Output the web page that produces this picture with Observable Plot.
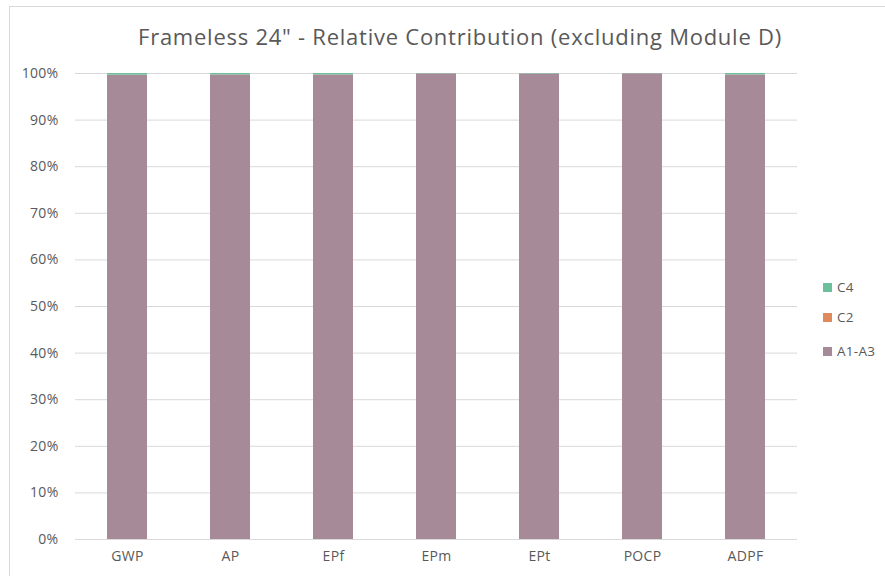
<!DOCTYPE html>
<html>
<head>
<meta charset="utf-8">
<script src="https://cdn.jsdelivr.net/npm/d3@7"></script>
<script src="https://cdn.jsdelivr.net/npm/@observablehq/plot@0.6"></script>
<style>
  html, body { margin: 0; padding: 0; background: #fff; overflow: hidden; }
  #wrap { position: relative; width: 885px; height: 576px; font-family: "Open Sans", Lato, sans-serif; overflow: hidden; }
  #border { position: absolute; left: 9px; top: 6px; width: 900px; height: 600px; border: 1px solid #d9d9d9; box-sizing: border-box; }
  #title { position: absolute; left: 15px; width: 890px; top: 21px; text-align: center; font-size: 22px; letter-spacing: 0.75px; color: #595959; white-space: nowrap; }
  #chart { position: absolute; left: 0; top: 0; }
  #chart svg text { letter-spacing: 0.3px; }
  #legend { position: absolute; left: 823px; top: 278px; font-size: 13.5px; color: #595959; letter-spacing: 0.3px; }
  .li { position: absolute; left: 0; white-space: nowrap; height: 18px; line-height: 18px; }
  .sw { display: inline-block; width: 9px; height: 9px; margin-right: 5px; vertical-align: 0px; }
</style>
</head>
<body>
<div id="wrap">
  <div id="border"></div>
  <div id="chart"></div>
  <div id="title">Frameless 24" - Relative Contribution (excluding Module D)</div>
  <div id="legend"></div>
</div>
<script>
const categories = ["GWP", "AP", "EPf", "EPm", "EPt", "POCP", "ADPF"];
const seriesNames = ["A1-A3", "C2", "C4"];
const seriesColors = ["#a78a98", "#e08a5c", "#6cbf9d"];
const a1a3 = [99.63, 99.68, 99.68, 99.90, 99.88, 99.93, 99.68];
const c2 = [0.02, 0.02, 0.02, 0.02, 0.02, 0.02, 0.02];
const c4 = [0.35, 0.30, 0.30, 0.08, 0.10, 0.05, 0.30];
const yTicks = [0, 10, 20, 30, 40, 50, 60, 70, 80, 90, 100];
const legendOrder = ["C4", "C2", "A1-A3"];
const legendTops = [0, 30, 64];

const seriesValues = {"A1-A3": a1a3, "C2": c2, "C4": c4};
const data = [];
for (const s of seriesNames) {
  categories.forEach((c, i) => data.push({category: c, series: s, value: seriesValues[s][i]}));
}

const plot = Plot.plot({
  width: 885,
  height: 576,
  marginLeft: 75,
  marginRight: 88,
  marginTop: 73,
  marginBottom: 37,
  style: {fontFamily: "'Open Sans', Lato, sans-serif", fontSize: "14px", color: "#595959", background: "transparent"},
  x: {domain: categories, paddingInner: 0.61, paddingOuter: 0.305, label: null, tickSize: 0, tickPadding: 12},
  y: {domain: [0, 100], ticks: yTicks, label: null, tickSize: 0, tickPadding: 17, tickFormat: d => d + "%"},
  color: {domain: seriesNames, range: seriesColors},
  marks: [
    Plot.gridY(yTicks, {stroke: "#d9d9d9", strokeOpacity: 1, strokeWidth: 1}),
    Plot.barY(data, Plot.stackY({x: "category", y: "value", fill: "series", order: null})),
    Plot.axisX({tickSize: 0, tickPadding: 12, fontSize: 14, fill: "#595959"}),
    Plot.axisY({ticks: yTicks, tickSize: 0, tickPadding: 17, tickFormat: d => d + "%", fontSize: 14, fill: "#595959"})
  ]
});
document.getElementById("chart").appendChild(plot);

const legend = document.getElementById("legend");
legendOrder.forEach((name, i) => {
  const div = document.createElement("div");
  div.className = "li";
  div.style.top = legendTops[i] + "px";
  const sw = document.createElement("span");
  sw.className = "sw";
  sw.style.background = seriesColors[seriesNames.indexOf(name)];
  div.appendChild(sw);
  div.appendChild(document.createTextNode(name));
  legend.appendChild(div);
});
</script>
</body>
</html>
